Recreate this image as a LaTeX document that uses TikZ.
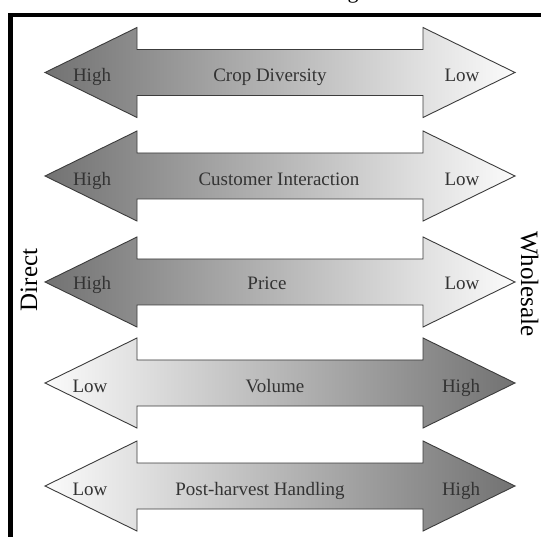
\documentclass[tikz,border=0pt]{standalone}
\usepackage{fontspec}
\setmainfont{Liberation Serif}
\definecolor{darkend}{HTML}{727272}
\definecolor{midtone}{HTML}{C4C4C4}
\definecolor{lightend}{HTML}{FBFBFB}
\definecolor{labeltxt}{HTML}{333333}
\definecolor{arrowline}{HTML}{3C3C3C}
\begin{document}
\begin{tikzpicture}[x=1pt,y=-1pt,
  arrowbody/.style={draw=arrowline,line width=0.9pt,line join=miter},
  highlow/.style={arrowbody,left color=darkend,middle color=midtone,right color=lightend},
  lowhigh/.style={arrowbody,left color=lightend,middle color=midtone,right color=darkend},
  lbl/.style={text=labeltxt,font=\fontsize{19}{19}\selectfont,anchor=base,inner sep=0pt},
  sidelbl/.style={text=black,font=\fontsize{25}{25}\selectfont,anchor=base,inner sep=0pt},
  frameline/.style={line width=4.6pt,black}
]
\useasboundingbox (0,0) rectangle (541,537);
\fill[white] (0,0) rectangle (541,537);
% partial title glyph cut at the top
\node[font=\fontsize{22}{22}\selectfont,anchor=base,inner sep=0pt] (titlefrag) at (353,-1.5) {g};
% frame
\draw[frameline] (10.5,545) -- (10.5,15) -- (550,15);
% arrows
\foreach \c/\sty in {72.5/highlow,176/highlow,282/highlow,383/lowhigh,486/lowhigh}{
  \path[\sty] (45,\c) -- (137,\c-45) -- (137,\c-23) -- (423,\c-23) -- (423,\c-45)
    -- (515,\c) -- (423,\c+45) -- (423,\c+23) -- (137,\c+23) -- (137,\c+45) -- cycle;
}
% labels row 1
\node[lbl] (h1) at (92,82) {High};
\node[lbl] (m1) at (270,82) {Crop Diversity};
\node[lbl] (l1) at (462,82) {Low};
% row 2
\node[lbl] (h2) at (92,185.5) {High};
\node[lbl] (m2) at (279,185.5) {Customer Interaction};
\node[lbl] (l2) at (462,185.5) {Low};
% row 3
\node[lbl] (h3) at (92,290) {High};
\node[lbl] (m3) at (267,290) {Price};
\node[lbl] (l3) at (462,290) {Low};
% row 4
\node[lbl] (l4) at (90,392.5) {Low};
\node[lbl] (m4) at (275,392.5) {Volume};
\node[lbl] (h4) at (461,392.5) {High};
% row 5
\node[lbl] (l5) at (90,495.5) {Low};
\node[lbl] (m5) at (260,495.5) {Post-harvest Handling};
\node[lbl] (h5) at (461,495.5) {High};
% side labels
\node[sidelbl,rotate=90] (direct) at (37,280) {Direct};
\node[sidelbl,rotate=-90] (wholesale) at (521,284) {Wholesale};
\end{tikzpicture}
\end{document}
